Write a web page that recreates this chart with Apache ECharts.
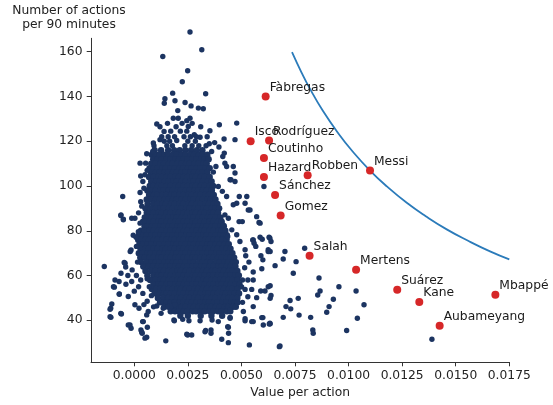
<!DOCTYPE html>
<html><head><meta charset="utf-8">
<script src="https://cdn.jsdelivr.net/npm/echarts@6/dist/echarts.min.js"></script>
<style>html,body{margin:0;padding:0;background:#fff}#c{width:553px;height:405px}</style>
</head><body><div id="c"></div>
<script>
const xTicks = [0, 0.0025, 0.005, 0.0075, 0.01, 0.0125, 0.015, 0.0175];
const xTickLabels = ['0.0000','0.0025','0.0050','0.0075','0.0100','0.0125','0.0150','0.0175'];
const yTicks = [40, 60, 80, 100, 120, 140, 160];

const players = ['Fàbregas','Isco','Rodríguez','Coutinho','Hazard','Robben','Messi','Sánchez','Gomez','Salah','Mertens','Suárez','Kane','Mbappé','Aubameyang'];
const playerValue = [0.00613,0.00543,0.00629,0.00605,0.00605,0.00809,0.0110,0.00657,0.00683,0.00818,0.01035,0.01227,0.0133,0.01685,0.01425];
const playerActions = [140,120,120.3,112.5,104.0,104.8,106.9,96.0,86.8,68.8,62.6,53.6,48.2,51.4,37.6];

const curveValue = [0.00736,0.0078,0.0082,0.0088,0.0095,0.0102,0.011,0.0118,0.0127,0.0136,0.0146,0.0156,0.0166,0.0175];
const curveActions = [159.8,150.8,143.4,133.6,123.8,115.3,106.9,99.7,92.6,86.5,80.5,75.4,70.8,67.2];

// dense core of the cloud: [actions, value, value, ...]
const coreRows = [
[116,0.00095,0.00125,0.00158,0.00186,0.00212,0.00238,0.00265,0.00292,0.00318],
[114,0.00082,0.00101,0.00119,0.00142,0.00158,0.00181,0.00199,0.00222,0.00238,0.00261,0.00279,0.00302,0.00318,0.00341],
[112,0.00088,0.00109,0.00128,0.00151,0.00168,0.00191,0.00209,0.00232,0.00248,0.00271,0.00289,0.00312,0.00328,0.00347],
[110,0.00079,0.00098,0.00121,0.00139,0.00162,0.00178,0.00201,0.00219,0.00242,0.00258,0.00281,0.00299,0.00322,0.00338],
[108,0.00071,0.00092,0.00109,0.00132,0.00148,0.00171,0.00189,0.00212,0.00228,0.00251,0.00269,0.00292,0.00308,0.00331,0.00352],
[106,0.00078,0.00101,0.00119,0.00142,0.00158,0.00181,0.00199,0.00222,0.00238,0.00261,0.00279,0.00302,0.00318,0.00341],
[104,0.00069,0.00091,0.00112,0.00128,0.00151,0.00169,0.00192,0.00208,0.00231,0.00249,0.00272,0.00288,0.00311,0.00329,0.00352],
[102,0.00079,0.00102,0.00118,0.00141,0.00159,0.00182,0.00198,0.00221,0.00239,0.00262,0.00278,0.00301,0.00319,0.00342,0.00361],
[100,0.00072,0.00089,0.00111,0.00128,0.00151,0.00169,0.00192,0.00208,0.00231,0.00249,0.00272,0.00288,0.00311,0.00329,0.00352,0.00368],
[98,0.00061,0.00082,0.00099,0.00122,0.00138,0.00161,0.00179,0.00202,0.00218,0.00241,0.00259,0.00282,0.00298,0.00321,0.00339,0.00362],
[96,0.00069,0.00092,0.00108,0.00131,0.00149,0.00172,0.00188,0.00211,0.00229,0.00252,0.00268,0.00291,0.00309,0.00332,0.00348,0.00371],
[94,0.00058,0.00079,0.00101,0.00118,0.00142,0.00159,0.00181,0.00198,0.00222,0.00239,0.00261,0.00278,0.00302,0.00319,0.00341,0.00358,0.00379],
[92,0.00062,0.00088,0.00109,0.00131,0.00148,0.00172,0.00189,0.00211,0.00228,0.00252,0.00269,0.00291,0.00308,0.00332,0.00349,0.00371,0.00388],
[90,0.00052,0.00078,0.00099,0.00121,0.00138,0.00162,0.00179,0.00201,0.00218,0.00242,0.00259,0.00281,0.00298,0.00322,0.00339,0.00361,0.00378,0.00396],
[88,0.00058,0.00071,0.00089,0.00112,0.00128,0.00151,0.00169,0.00192,0.00208,0.00231,0.00249,0.00272,0.00288,0.00311,0.00329,0.00352,0.00368,0.00391],
[86,0.00049,0.00062,0.00081,0.00102,0.00118,0.00141,0.00159,0.00182,0.00198,0.00221,0.00239,0.00262,0.00278,0.00301,0.00319,0.00342,0.00358,0.00381,0.00402],
[84,0.00041,0.00052,0.00071,0.00089,0.00112,0.00128,0.00151,0.00169,0.00192,0.00208,0.00231,0.00249,0.00272,0.00288,0.00311,0.00329,0.00352,0.00368,0.00391,0.00408],
[82,0.00048,0.00061,0.00082,0.00099,0.00122,0.00138,0.00161,0.00179,0.00202,0.00218,0.00241,0.00259,0.00282,0.00298,0.00321,0.00339,0.00362,0.00378,0.00401,0.00418],
[80,0.00031,0.00049,0.00072,0.00088,0.00111,0.00129,0.00152,0.00168,0.00191,0.00209,0.00232,0.00248,0.00271,0.00289,0.00312,0.00328,0.00351,0.00369,0.00392,0.00408,0.00425],
[78,0.00022,0.00041,0.00058,0.00081,0.00098,0.00121,0.00139,0.00162,0.00178,0.00201,0.00219,0.00242,0.00258,0.00281,0.00299,0.00322,0.00338,0.00361,0.00379,0.00402,0.00418,0.00432],
[76,0.00018,0.00032,0.00052,0.00069,0.00092,0.00108,0.00131,0.00149,0.00172,0.00188,0.00211,0.00229,0.00252,0.00268,0.00291,0.00309,0.00332,0.00348,0.00371,0.00389,0.00412,0.00431],
[74,0.00024,0.00041,0.00062,0.00079,0.00102,0.00118,0.00141,0.00159,0.00182,0.00198,0.00221,0.00239,0.00262,0.00278,0.00301,0.00319,0.00342,0.00358,0.00381,0.00399,0.00422,0.00441],
[72,0.00029,0.00052,0.00068,0.00091,0.00109,0.00132,0.00148,0.00171,0.00189,0.00212,0.00228,0.00251,0.00269,0.00292,0.00308,0.00331,0.00349,0.00372,0.00388,0.00411,0.00429,0.00449],
[70,0.00021,0.00039,0.00062,0.00078,0.00101,0.00119,0.00142,0.00158,0.00181,0.00199,0.00222,0.00238,0.00261,0.00279,0.00302,0.00318,0.00341,0.00359,0.00382,0.00398,0.00421,0.00439,0.00458],
[68,0.00028,0.00049,0.00071,0.00089,0.00112,0.00128,0.00151,0.00169,0.00192,0.00208,0.00231,0.00249,0.00272,0.00288,0.00311,0.00329,0.00352,0.00368,0.00391,0.00409,0.00432,0.00448,0.00466],
[66,0.00032,0.00058,0.00079,0.00101,0.00118,0.00142,0.00159,0.00181,0.00198,0.00222,0.00239,0.00261,0.00278,0.00302,0.00319,0.00341,0.00358,0.00382,0.00399,0.00421,0.00438,0.00461,0.00474],
[64,0.00042,0.00069,0.00088,0.00111,0.00129,0.00152,0.00168,0.00191,0.00209,0.00232,0.00248,0.00271,0.00289,0.00312,0.00328,0.00351,0.00369,0.00392,0.00408,0.00431,0.00449,0.00472],
[62,0.00052,0.00078,0.00099,0.00122,0.00138,0.00161,0.00179,0.00202,0.00218,0.00241,0.00259,0.00282,0.00298,0.00321,0.00339,0.00362,0.00378,0.00401,0.00419,0.00442,0.00458,0.00481],
[60,0.00061,0.00089,0.00111,0.00128,0.00151,0.00169,0.00192,0.00208,0.00231,0.00249,0.00272,0.00288,0.00311,0.00329,0.00352,0.00368,0.00391,0.00409,0.00432,0.00448,0.00471,0.00488],
[58,0.00074,0.00099,0.00121,0.00138,0.00162,0.00179,0.00201,0.00218,0.00242,0.00259,0.00281,0.00298,0.00322,0.00339,0.00361,0.00378,0.00402,0.00419,0.00441,0.00458,0.00482],
[56,0.00089,0.00112,0.00129,0.00152,0.00168,0.00191,0.00209,0.00232,0.00248,0.00271,0.00289,0.00312,0.00328,0.00351,0.00369,0.00392,0.00408,0.00431,0.00449,0.00472,0.00491],
[54,0.00082,0.00102,0.00121,0.00138,0.00161,0.00179,0.00202,0.00218,0.00241,0.00259,0.00282,0.00298,0.00321,0.00339,0.00362,0.00378,0.00401,0.00419,0.00442,0.00458,0.00482],
[52,0.00095,0.00118,0.00139,0.00152,0.00171,0.00188,0.00211,0.00229,0.00252,0.00268,0.00291,0.00309,0.00332,0.00348,0.00371,0.00389,0.00412,0.00428,0.00451,0.00469,0.00489],
[50,0.0011,0.00135,0.00158,0.00179,0.00201,0.00218,0.00242,0.00259,0.00281,0.00298,0.00322,0.00339,0.00361,0.00378,0.00402,0.00419,0.00441,0.00458,0.00481],
[48,0.0012,0.00135,0.00152,0.00171,0.00189,0.00212,0.00228,0.00251,0.00269,0.00292,0.00308,0.00331,0.00349,0.00372,0.00388,0.00411,0.00429,0.00452,0.00468,0.00482],
[46,0.0014,0.0016,0.00178,0.00198,0.00221,0.00239,0.00262,0.00278,0.00301,0.00319,0.00342,0.00358,0.00381,0.00399,0.00422,0.00438,0.00461,0.00474],
[44,0.0017,0.0019,0.00208,0.00231,0.00249,0.00272,0.00288,0.00311,0.00329,0.00352,0.00368,0.00391,0.00409,0.00432,0.00448],
[42,0.00215,0.0025,0.0031,0.0036,0.0041]
];

// scattered points around the cloud: [value, actions]
const sparsePoints = [
[0.0026,168.8],[0.00315,160.9],[0.00133,157.9],[0.00249,151.5],[0.00224,146.6],[0.00179,141.5],[0.00333,141.2],[0.00143,139],[0.0019,138.1],[0.0014,137],[0.00237,137.3],[0.00203,133.7],[0.00265,135.8],[0.00299,134.8],[0.00322,134.5],[0.00105,127.7],[0.00139,124.4],[0.00182,130.3],[0.00205,130.3],[0.00245,129.2],[0.0026,130.3],[0.00252,126.6],[0.0028,122.9],[0.00353,124.7],[0.00397,127.4],[0.0035,118.9],[0.00375,119.4],[0.00395,117.4],[0.00419,121],[0.0047,120.7],[0.00478,128.1],[0.00089,119.2],[0.0012,120.7],[0.00086,115.4],[0.00058,114.4],[0.00027,110.2],[0.00053,110.2],[0.00307,121.8],[0.00361,115.4],[0.00413,113.2],[0.00423,110.2],[0.00462,108.7],[0.0047,105.8],[0.0047,102],[0.00447,102.8],[0.0049,95.3],[0.00525,95.3],[0.00605,99.8],[-0.00054,95.3],[0.00027,97.1],[0.00369,106.2],[0.00381,108.7],[0.0042,114.7],[0.00431,108.7],[0.00451,102.8],[0.00392,99.8],[0.00411,97.6],[0.00431,95.3],[0.00478,92.3],[0.00462,91.6],[0.00517,92.3],[0.00532,89.3],[0.00571,86.3],[0.00582,83.7],[0.00489,84.1],[0.00504,84.1],[0.00423,87.1],[0.00439,85.6],[0.00415,82.6],[0.00455,80.4],[0.00436,77.4],[0.00478,78.2],[0.00493,75.2],[0.00555,75.9],[0.00597,76.2],[0.00633,76.7],[0.00567,73],[0.00625,71.5],[0.00517,71.5],[0.0054,89.3],[0.00587,83.4],[0.00553,75.9],[0.00638,75.2],[0.00629,77.1],[0.00587,77.1],[0.00559,74.4],
[0.00092,118],[0.00152,118],[0.00178,118],[0.00236,118],[0.0027,118],[0.00301,118],[0.00335,118],
[0.0014,120],[0.00165,120],[0.00198,120.3],[0.0025,120],[0.00285,120],
[0.00128,122],[0.00158,122],[0.00188,122],[0.00232,122],[0.00262,122],[0.0029,122],[0.0034,122],
[0.0017,124.5],[0.00215,124.5],[0.00245,124.5],[0.0012,126.5],[0.00195,126.5],[0.0031,126.5],[0.00155,128],[0.00223,128],[0.0027,128],
[0.0052,68.8],[0.00591,68.8],[0.006,67],[0.00625,70.7],[0.00657,64.4],[0.00555,61.6],[0.00595,63],[0.00555,58],[0.0053,58],[0.00505,58],[0.00501,54.9],[0.00517,53.8],[0.00548,53.8],[0.00571,50.1],[0.0059,53.1],[0.0061,53.1],[0.00625,55],[0.00638,51.1],[0.00555,46.1],[0.00509,43.9],[0.00517,39.8],[0.00548,39.4],[0.006,41.2],[0.00602,37.9],[0.00633,38.7],[0.00447,40.9],[0.00439,36.9],[0.0044,34.2],[0.00408,31.5],[0.00537,29],[0.00677,28.2],[0.00392,39.4],[0.00358,35.7],[0.00333,35.4],[0.00307,39.8],[0.00249,33.4],[0.00268,33.4],[0.00255,39.8],[0.00447,44.6],[0.00515,63.5],[0.00535,66],[0.00505,48],[0.0053,50.5],
[0.00634,70.7],[0.00703,70.7],[0.00695,67.4],[0.00755,66.2],[0.00795,72.2],[0.00742,61],[0.00862,58.9],[0.00867,53.1],[0.00856,51.3],[0.00955,55],[0.01035,53.1],[0.01072,46.9],[0.01041,40.9],[0.00929,49.4],[0.00909,46.1],[0.00898,43.6],[0.00823,41.3],[0.00833,35.7],[0.00835,34.2],[0.00991,35.4],[0.00765,49.8],[0.00727,48.8],[0.00708,46.1],[0.0073,45.1],[0.00769,42.3],[0.00695,41.3],[0.0068,28.5],[0.00634,38.4],[0.00634,49.8],[0.00634,55.4],[0.01389,31.5],
[-0.0014,64],[-0.00113,41.6],[-0.0011,45.4],[-0.0009,58],[-0.00093,54.8],[-0.0007,51.8],[-0.00062,87.1],[-0.00051,85.2],[-0.00012,85.6],[0.00003,85.6],[-0.00043,65.5],[-0.00019,70.7],[-0.00062,61],[-0.0002,37.9],[-0.00015,36.4],[-0.0006,42.8],[0.00147,30.8],[0.00245,33.8],[0.0033,34.9],[0.00358,34.2],[0.00439,30],[0.00436,37.1],[0.00185,40.1],[0.00226,40.4],[0.00125,43.1],[0.00058,42.4],[0.00042,39.4],[0.00031,35.7],[0.00037,34.2],[0.00058,32.4],[0.00363,40.1],[0.00447,41.3],[0.00517,40.7],[0.00555,39.4],[0.00595,41.2],[0.0063,38.3],
[-0.00063,86.8],[-0.00051,84.9],[0.00027,83.4],[0.00019,79.6],[0.00008,77.1],[-0.00015,71.4],
[-0.00071,57.3],[-0.00097,55],[-0.00039,56.1],[-0.0007,51.6],[-0.00105,47.3],[-0.00113,44.9],[-0.00109,41.3],[-0.00063,43.1],[-0.00028,37.9],[0.00039,39.4],[0.00035,34.7],[0.0005,32],[0.00061,36.9],[-0.00047,65.8],[-0.0004,63.8],[-0.00012,57.3],[-0.00028,50.6],[0.00003,46.9],[0.00022,45.4],[0.00065,43.9],[0.00105,46.4],[0.00135,45.4],[0.0019,46.9],[0.00187,39.8],
[0.0001,60],[0.00015,66],[-0.0001,62.5],[0.0002,55],[0.0004,52],[0.0006,48.5],[0.0008,51],[0.0003,58],[0.00045,47],[0.0009,46],[0.0007,55],[0.0006,58.5],[0.0,53],[-0.0003,60],[0.0001,73],[-0.00005,78],[0.0002,88],[0.00035,91],[0.0004,102],[0.0005,105],[0.0006,107],[0.0003,104.5],[0.00045,99],[0.0003,93]
];

const core = [];
coreRows.forEach(r => { for (let i = 1; i < r.length; i++) core.push([r[i], r[0]]); });

const font = 'DejaVu Sans';
const navy = '#1c3461';
const chart = echarts.init(document.getElementById('c'), null, {renderer: 'canvas'});
const axisCol = '#333';
chart.setOption({
  animation: false,
  title: {
    text: 'Number of actions\nper 90 minutes', left: 69, top: 4, textAlign: 'center', padding: 0,
    textStyle: {fontFamily: font, fontSize: 12.3, fontWeight: 'normal', color: '#222', lineHeight: 14}
  },
  grid: {left: 91, right: 43.7, top: 38.3, bottom: 43, containLabel: false},
  xAxis: {
    type: 'value', min: -0.00202, max: 0.0175,
    splitLine: {show: false},
    axisLine: {show: true, onZero: false, lineStyle: {color: axisCol, width: 1}},
    axisTick: {show: true, length: 4.3, customValues: xTicks, lineStyle: {color: axisCol, width: 1}},
    axisLabel: {customValues: xTicks, margin: 8, color: '#222', fontFamily: font, fontSize: 12.3,
      formatter: v => xTickLabels[xTicks.findIndex(t => Math.abs(t - v) < 1e-9)]},
    name: 'Value per action', nameLocation: 'middle', nameGap: 24,
    nameTextStyle: {color: '#222', fontFamily: font, fontSize: 12.3}
  },
  yAxis: {
    type: 'value', min: 21.35, max: 166.0,
    splitLine: {show: false},
    axisLine: {show: true, onZero: false, lineStyle: {color: axisCol, width: 1}},
    axisTick: {show: true, length: 4.3, customValues: yTicks, lineStyle: {color: axisCol, width: 1}},
    axisLabel: {customValues: yTicks, margin: 8.5, color: '#222', fontFamily: font, fontSize: 12.3}
  },
  series: [
    {type: 'scatter', data: core, symbolSize: 6.4, clip: false, itemStyle: {color: navy, opacity: 1}, z: 2, silent: true},
    {type: 'scatter', data: sparsePoints, symbolSize: 5.4, clip: false, itemStyle: {color: navy, opacity: 1}, z: 2, silent: true},
    {type: 'line', data: curveValue.map((v, i) => [v, curveActions[i]]), smooth: true, showSymbol: false,
      lineStyle: {color: '#2b7bba', width: 1.8}, z: 3},
    {type: 'scatter', data: players.map((n, i) => ({name: n, value: [playerValue[i], playerActions[i]]})),
      symbolSize: 8, itemStyle: {color: '#d62728', opacity: 1}, z: 4,
      label: {show: true, formatter: '{b}', position: [8, -5], align: 'left', verticalAlign: 'middle',
        color: '#1a1a1a', fontFamily: font, fontSize: 12.3}}
  ]
});
</script></body></html>
